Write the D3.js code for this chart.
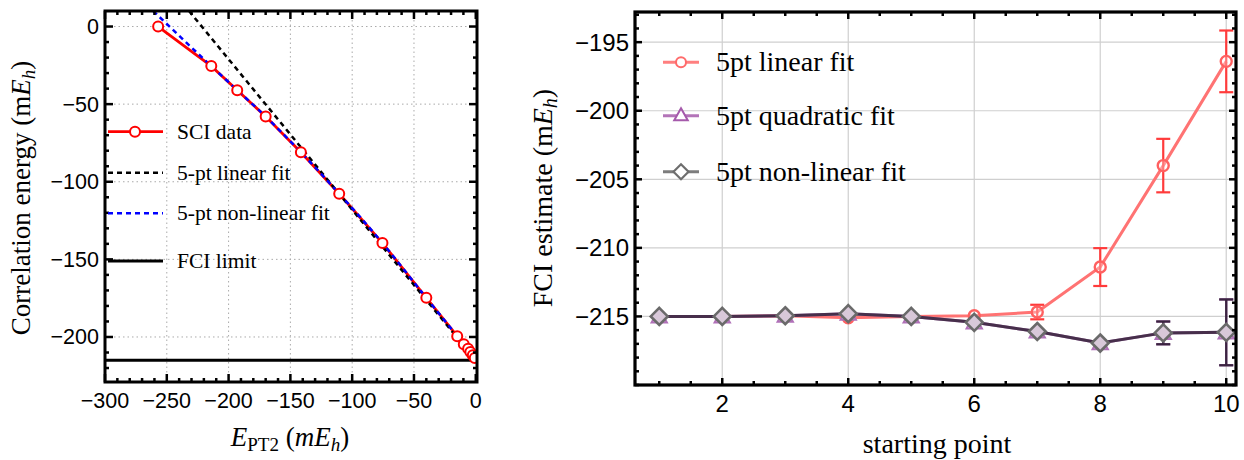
<!DOCTYPE html>
<html>
<head>
<meta charset="utf-8">
<script src="https://cdn.jsdelivr.net/npm/d3@7"></script>
<style>
  body { margin: 0; background: #fff; }
  .serif { font-family: "Liberation Serif", "Times New Roman", serif; }
  .sans { font-family: "Liberation Sans", Arial, sans-serif; }
</style>
</head>
<body>
<svg id="fig" width="1244" height="460"></svg>
<script>
// ---- left panel data (SCI extrapolation) ----
var sciX = [-257, -214, -193, -170, -141.5, -110.5, -75.5, -40, -15, -9.7, -6.2, -4.4, -2.4, -0.8];
var sciY = [0, -25.5, -41, -58, -81, -107.7, -139.5, -174.8, -199.5, -204.7, -207.5, -209.7, -211.8, -213.5];
var linFitX = [-232, 0];
var linFitY = [10, -215];
var nlFitX = [-261, -214, -193, -170, -141.5, -110.5, -75.5, -40, -15, 0];
var nlFitY = [10, -25.5, -41, -58, -81, -107.7, -139.5, -174.8, -199.5, -215];
var fciLimit = -215;
var leftXTicks = [-300, -250, -200, -150, -100, -50, 0];
var leftYTicks = [0, -50, -100, -150, -200];
var leftLegend = ["SCI data", "5-pt linear fit", "5-pt non-linear fit", "FCI limit"];

// ---- right panel data (FCI estimate vs starting point) ----
var startPt = [1, 2, 3, 4, 5, 6, 7, 8, 9, 10];
var linEst = [-215.0, -215.0, -214.95, -215.1, -215.0, -214.95, -214.68, -211.4, -204.0, -196.4];
var linErr = [0, 0, 0, 0, 0, 0, 0.53, 1.38, 1.95, 2.25];
var quadEst = [-215.0, -215.0, -214.95, -214.8, -215.0, -215.43, -216.1, -216.94, -216.2, -216.16];
var quadErr = [0, 0, 0, 0, 0, 0, 0, 0, 0.83, 2.4];
var nlEst = [-215.0, -215.0, -214.95, -214.8, -215.0, -215.43, -216.1, -216.94, -216.2, -216.16];
var nlErr = [0, 0, 0, 0, 0, 0, 0, 0, 0.83, 2.4];
var rightXTicks = [2, 4, 6, 8, 10];
var rightYTicks = [-195, -200, -205, -210, -215];
var rightLegend = ["5pt linear fit", "5pt quadratic fit", "5pt non-linear fit"];

var svg = d3.select("#fig");

// small helper: frame ticks on all four sides, pointing inward
function frameTicks(g, x, y, xMaj, xMin, yMaj, yMin, majLen, minLen) {
  var x0 = x.range()[0], x1 = x.range()[1], y0 = y.range()[0], y1 = y.range()[1];
  xMin.forEach(function(v) {
    var len = xMaj.indexOf(v) >= 0 ? majLen : minLen;
    g.append("line").attr("x1", x(v)).attr("x2", x(v)).attr("y1", y0).attr("y2", y0 - len);
    g.append("line").attr("x1", x(v)).attr("x2", x(v)).attr("y1", y1).attr("y2", y1 + len);
  });
  yMin.forEach(function(v) {
    var len = yMaj.indexOf(v) >= 0 ? majLen : minLen;
    g.append("line").attr("y1", y(v)).attr("y2", y(v)).attr("x1", x0).attr("x2", x0 + len);
    g.append("line").attr("y1", y(v)).attr("y2", y(v)).attr("x1", x1).attr("x2", x1 - len);
  });
  g.selectAll("line").attr("stroke", "#000").attr("stroke-width", 2.5);
}

// ================= LEFT PANEL =================
var xL = d3.scaleLinear().domain([-300, 1]).range([105, 477]);
var yL = d3.scaleLinear().domain([-229, 10]).range([382, 11]);
var left = svg.append("g");

left.append("clipPath").attr("id", "clipL")
  .append("rect").attr("x", 105).attr("y", 11).attr("width", 372).attr("height", 371);

// dotted grid
left.append("g").selectAll("line").data(leftXTicks.slice(1, -1)).enter().append("line")
  .attr("x1", d => xL(d)).attr("x2", d => xL(d)).attr("y1", 11).attr("y2", 382)
  .attr("stroke", "#aaa").attr("stroke-width", 1).attr("stroke-dasharray", "1.5,3");
left.append("g").selectAll("line").data(leftYTicks).enter().append("line")
  .attr("y1", d => yL(d)).attr("y2", d => yL(d)).attr("x1", 105).attr("x2", 477)
  .attr("stroke", "#aaa").attr("stroke-width", 1).attr("stroke-dasharray", "1.5,3");

var plotL = left.append("g").attr("clip-path", "url(#clipL)");

// FCI limit
plotL.append("line").attr("x1", 105).attr("x2", 477)
  .attr("y1", yL(fciLimit)).attr("y2", yL(fciLimit))
  .attr("stroke", "#000").attr("stroke-width", 2.8);

var lineL = d3.line().x(d => xL(d[0])).y(d => yL(d[1]));

// SCI data line
plotL.append("path").datum(d3.zip(sciX, sciY)).attr("d", lineL)
  .attr("fill", "none").attr("stroke", "#ff0000").attr("stroke-width", 2.8);

// linear fit
plotL.append("path").datum(d3.zip(linFitX, linFitY)).attr("d", lineL)
  .attr("fill", "none").attr("stroke", "#000").attr("stroke-width", 2.5)
  .attr("stroke-dasharray", "5,4");

// non-linear fit
plotL.append("path").datum(d3.zip(nlFitX, nlFitY))
  .attr("d", d3.line().x(d => xL(d[0])).y(d => yL(d[1])).curve(d3.curveMonotoneX))
  .attr("fill", "none").attr("stroke", "#0000ff").attr("stroke-width", 2.5)
  .attr("stroke-dasharray", "5,4");

// SCI markers
plotL.append("g").selectAll("circle").data(d3.zip(sciX, sciY)).enter().append("circle")
  .attr("cx", d => xL(d[0])).attr("cy", d => yL(d[1])).attr("r", 5)
  .attr("fill", "#fff").attr("stroke", "#ff0000").attr("stroke-width", 2);

// frame + ticks
left.append("rect").attr("x", 105).attr("y", 11).attr("width", 372).attr("height", 371)
  .attr("fill", "none").attr("stroke", "#000").attr("stroke-width", 3);
frameTicks(left.append("g"), xL, yL, leftXTicks, d3.range(-300, 1, 10),
  leftYTicks, d3.range(-220, 10, 10), 8, 4);

// tick labels
left.append("g").selectAll("text").data(leftXTicks).enter().append("text")
  .attr("class", "sans").attr("x", d => xL(d)).attr("y", 408)
  .attr("text-anchor", "middle").attr("font-size", 21.5)
  .text(d => d3.format("d")(d));
left.append("g").selectAll("text").data(leftYTicks).enter().append("text")
  .attr("class", "sans").attr("x", 99).attr("y", d => yL(d) + 7.5)
  .attr("text-anchor", "end").attr("font-size", 21.5)
  .text(d => d3.format("d")(d));

// axis titles
var xtL = left.append("text").attr("class", "serif").attr("x", 290).attr("y", 446)
  .attr("text-anchor", "middle").attr("font-size", 27);
xtL.append("tspan").attr("font-style", "italic").text("E");
xtL.append("tspan").attr("font-size", 19).attr("dy", 5).text("PT2");
xtL.append("tspan").attr("dy", -5).text(" (");
xtL.append("tspan").attr("font-style", "italic").text("mE");
xtL.append("tspan").attr("font-style", "italic").attr("font-size", 19).attr("dy", 5).text("h");
xtL.append("tspan").attr("dy", -5).text(")");

var ytL = left.append("text").attr("class", "serif")
  .attr("transform", "translate(30,198) rotate(-90)")
  .attr("text-anchor", "middle").attr("font-size", 27);
ytL.append("tspan").text("Correlation energy (m");
ytL.append("tspan").attr("font-style", "italic").text("E");
ytL.append("tspan").attr("font-style", "italic").attr("font-size", 19).attr("dy", 5).text("h");
ytL.append("tspan").attr("dy", -5).text(")");

// legend
var legYL = [131.7, 172.7, 213.3, 261];
var legL = left.append("g");
legL.append("line").attr("x1", 108).attr("x2", 163).attr("y1", legYL[0]).attr("y2", legYL[0])
  .attr("stroke", "#ff0000").attr("stroke-width", 2.8);
legL.append("circle").attr("cx", 135).attr("cy", legYL[0]).attr("r", 5)
  .attr("fill", "#fff").attr("stroke", "#ff0000").attr("stroke-width", 2);
legL.append("line").attr("x1", 108).attr("x2", 163).attr("y1", legYL[1]).attr("y2", legYL[1])
  .attr("stroke", "#000").attr("stroke-width", 2.5).attr("stroke-dasharray", "5,4");
legL.append("line").attr("x1", 108).attr("x2", 163).attr("y1", legYL[2]).attr("y2", legYL[2])
  .attr("stroke", "#0000ff").attr("stroke-width", 2.5).attr("stroke-dasharray", "5,4");
legL.append("line").attr("x1", 108).attr("x2", 163).attr("y1", legYL[3]).attr("y2", legYL[3])
  .attr("stroke", "#000").attr("stroke-width", 2.8);
legL.selectAll("text").data(leftLegend).enter().append("text")
  .attr("class", "serif").attr("x", 177).attr("y", (d, i) => legYL[i] + 7)
  .attr("font-size", 21.5).text(d => d);

// ================= RIGHT PANEL =================
var xR = d3.scaleLinear().domain([0.615, 10.155]).range([635, 1236]);
var yR = d3.scaleLinear().domain([-220, -192.8]).range([385, 12]);
var right = svg.append("g");

// grid
right.append("g").selectAll("line").data(rightXTicks).enter().append("line")
  .attr("x1", d => xR(d)).attr("x2", d => xR(d)).attr("y1", 12).attr("y2", 385)
  .attr("stroke", "#cfcfcf").attr("stroke-width", 1.2);
right.append("g").selectAll("line").data(rightYTicks).enter().append("line")
  .attr("y1", d => yR(d)).attr("y2", d => yR(d)).attr("x1", 635).attr("x2", 1236)
  .attr("stroke", "#cfcfcf").attr("stroke-width", 1.2);

var lineR = d3.line().x(d => xR(d[0])).y(d => yR(d[1]));

function errorBars(g, xs, ys, es, color) {
  var pts = d3.zip(xs, ys, es).filter(d => d[2] > 0);
  var eb = g.append("g").attr("stroke", color).attr("stroke-width", 2.2);
  pts.forEach(function(d) {
    eb.append("line").attr("x1", xR(d[0])).attr("x2", xR(d[0]))
      .attr("y1", yR(d[1] - d[2])).attr("y2", yR(d[1] + d[2]));
    [d[1] - d[2], d[1] + d[2]].forEach(function(v) {
      eb.append("line").attr("x1", xR(d[0]) - 7).attr("x2", xR(d[0]) + 7)
        .attr("y1", yR(v)).attr("y2", yR(v));
    });
  });
}

function trianglePath(cx, cy, r) {
  return "M" + cx + "," + (cy - r) + "L" + (cx + r * 0.9) + "," + (cy + r * 0.6) +
    "L" + (cx - r * 0.9) + "," + (cy + r * 0.6) + "Z";
}
function diamondPath(cx, cy, r) {
  return "M" + cx + "," + (cy - r) + "L" + (cx + r) + "," + cy +
    "L" + cx + "," + (cy + r) + "L" + (cx - r) + "," + cy + "Z";
}

// linear fit series
var gLin = right.append("g");
gLin.append("path").datum(d3.zip(startPt, linEst)).attr("d", lineR)
  .attr("fill", "none").attr("stroke", "#ff7373").attr("stroke-width", 3);
errorBars(gLin, startPt, linEst, linErr, "#ff3b3b");
gLin.selectAll("circle").data(d3.zip(startPt, linEst)).enter().append("circle")
  .attr("cx", d => xR(d[0])).attr("cy", d => yR(d[1])).attr("r", 5.5)
  .attr("fill", "#fff").attr("fill-opacity", 0.3)
  .attr("stroke", "#ff6060").attr("stroke-width", 2.4);

// quadratic fit series
var gQuad = right.append("g");
gQuad.append("path").datum(d3.zip(startPt, quadEst)).attr("d", lineR)
  .attr("fill", "none").attr("stroke", "#a060a8").attr("stroke-width", 3);
errorBars(gQuad, startPt, quadEst, quadErr, "#8a4a90");
gQuad.selectAll("path.tri").data(d3.zip(startPt, quadEst)).enter().append("path")
  .attr("class", "tri").attr("d", d => trianglePath(xR(d[0]), yR(d[1]) + 1, 8.5))
  .attr("fill", "#e8d6ea").attr("stroke", "#b070b8").attr("stroke-width", 2);

// non-linear fit series
var gNl = right.append("g");
gNl.append("path").datum(d3.zip(startPt, nlEst)).attr("d", lineR)
  .attr("fill", "none").attr("stroke", "#2a1f2c").attr("stroke-opacity", 0.75).attr("stroke-width", 3);
errorBars(gNl, startPt, nlEst, nlErr, "#3a2440");
gNl.selectAll("path.dia").data(d3.zip(startPt, nlEst)).enter().append("path")
  .attr("class", "dia").attr("d", d => diamondPath(xR(d[0]), yR(d[1]), 8.5))
  .attr("fill", "#d8c8d9").attr("stroke", "#6a6a6a").attr("stroke-width", 2.6);

// frame + ticks
right.append("rect").attr("x", 635).attr("y", 12).attr("width", 601).attr("height", 373)
  .attr("fill", "none").attr("stroke", "#000").attr("stroke-width", 3.2);
frameTicks(right.append("g"), xR, yR, rightXTicks, d3.range(1, 10.01, 0.5),
  rightYTicks, d3.range(-220, -192.5, 1), 7, 4);

right.append("g").selectAll("text").data(rightXTicks).enter().append("text")
  .attr("class", "sans").attr("x", d => xR(d)).attr("y", 411.5)
  .attr("text-anchor", "middle").attr("font-size", 24)
  .text(d => d);
right.append("g").selectAll("text").data(rightYTicks).enter().append("text")
  .attr("class", "sans").attr("x", 629).attr("y", d => yR(d) + 8.5)
  .attr("text-anchor", "end").attr("font-size", 24)
  .text(d => d3.format("d")(d));

right.append("text").attr("class", "serif").attr("x", 937).attr("y", 453)
  .attr("text-anchor", "middle").attr("font-size", 28).text("starting point");

var ytR = right.append("text").attr("class", "serif")
  .attr("transform", "translate(552,198) rotate(-90)")
  .attr("text-anchor", "middle").attr("font-size", 28);
ytR.append("tspan").text("FCI estimate (m");
ytR.append("tspan").attr("font-style", "italic").text("E");
ytR.append("tspan").attr("font-style", "italic").attr("font-size", 20).attr("dy", 5).text("h");
ytR.append("tspan").attr("dy", -5).text(")");

// legend
var legYR = [62.3, 115.7, 171.7];
var legR = right.append("g");
legR.append("line").attr("x1", 663).attr("x2", 699).attr("y1", legYR[0]).attr("y2", legYR[0])
  .attr("stroke", "#ff7f7f").attr("stroke-width", 3);
legR.append("circle").attr("cx", 681).attr("cy", legYR[0]).attr("r", 5)
  .attr("fill", "#fff").attr("stroke", "#ff6a6a").attr("stroke-width", 2);
legR.append("line").attr("x1", 663).attr("x2", 699).attr("y1", legYR[1]).attr("y2", legYR[1])
  .attr("stroke", "#b374b8").attr("stroke-width", 3);
legR.append("path").attr("d", trianglePath(681, legYR[1], 7.5))
  .attr("fill", "#fff").attr("stroke", "#a55aab").attr("stroke-width", 2);
legR.append("line").attr("x1", 663).attr("x2", 699).attr("y1", legYR[2]).attr("y2", legYR[2])
  .attr("stroke", "#7d7d7d").attr("stroke-width", 3);
legR.append("path").attr("d", diamondPath(681, legYR[2], 7.5))
  .attr("fill", "#fff").attr("stroke", "#6e6e6e").attr("stroke-width", 2.2);
legR.selectAll("text").data(rightLegend).enter().append("text")
  .attr("class", "serif").attr("x", 716).attr("y", (d, i) => legYR[i] + 9)
  .attr("font-size", 28).text(d => d);
</script>
</body>
</html>
